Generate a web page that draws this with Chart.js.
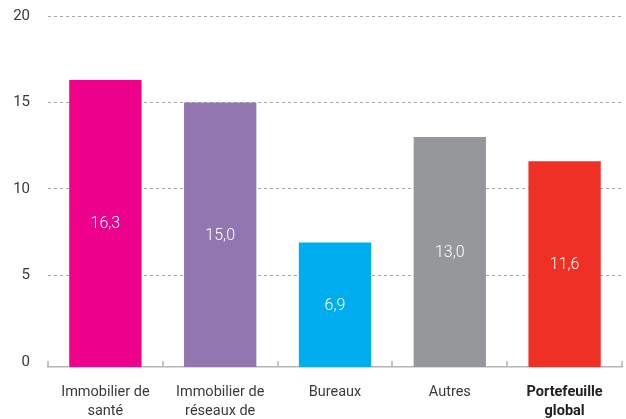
<!DOCTYPE html>
<html>
<head>
<meta charset="utf-8">
<script src="https://cdn.jsdelivr.net/npm/chart.js@4/dist/chart.umd.min.js"></script>
<style>
html,body{margin:0;padding:0;background:#fff;overflow:hidden;width:626px;height:419px;}
#wrap{width:626px;height:451px;position:absolute;left:0;top:-11px;}
</style>
</head>
<body>
<div id="wrap"><canvas id="c"></canvas></div>
<script>
const categories = [["Immobilier de","santé"],["Immobilier de","réseaux de","distribution"],"Bureaux","Autres",["Portefeuille","global"]];
const values = [16.3, 15.0, 6.9, 13.0, 11.6];
const colors = ["#EC008C","#9176B0","#00AEEF","#96979B","#EE3124"];
const yTicks = [0, 5, 10, 15, 20];

const valueLabels = {
  id: 'valueLabels',
  afterDatasetsDraw(chart) {
    const ctx = chart.ctx;
    const meta = chart.getDatasetMeta(0);
    ctx.save();
    ctx.fillStyle = '#ffffff';
    ctx.font = '300 16px Roboto';
    ctx.textAlign = 'center';
    ctx.textBaseline = 'middle';
    meta.data.forEach((bar, i) => {
      const p = bar.getProps(['x','y','base'], true);
      ctx.fillText(values[i].toFixed(1).replace('.', ','), p.x, (p.y + p.base) / 2 + 1);
    });
    ctx.restore();
  }
};

const xTickMarks = {
  id: 'xTickMarks',
  afterDraw(chart) {
    const xs = chart.scales.x;
    const ctx = chart.ctx;
    const y = chart.chartArea.bottom;
    ctx.save();
    ctx.strokeStyle = '#b5b5b5';
    ctx.lineWidth = 1.5;
    for (let i = 0; i <= categories.length; i++) {
      const x = Math.round(xs.getPixelForValue(i - 0.5));
      ctx.beginPath();
      ctx.moveTo(x, y);
      ctx.lineTo(x, y - 6);
      ctx.stroke();
    }
    ctx.restore();
  }
};

new Chart(document.getElementById('c'), {
  type: 'bar',
  data: {
    labels: categories,
    datasets: [{
      data: values,
      backgroundColor: colors,
      base: -0.3,
      categoryPercentage: 1,
      barPercentage: 0.63
    }]
  },
  options: {
    responsive: true,
    maintainAspectRatio: false,
    animation: false,
    layout: { padding: { top: 5, right: 4, left: 0, bottom: 0 } },
    plugins: { legend: { display: false }, tooltip: { enabled: false } },
    scales: {
      x: {
        offset: true,
        grid: { display: false, drawTicks: false },
        border: { display: true, color: '#b5b5b5', width: 1.5 },
        ticks: {
          padding: 16,
          color: ctx => ctx.index === 4 ? '#222' : '#3a3a3a',
          font: ctx => ctx.index === 4 ? { family: 'Roboto', size: 14.5, weight: 'bold', lineHeight: '19px' } : { family: 'Roboto', size: 14.5, lineHeight: '19px' },
          maxRotation: 0,
          autoSkip: false
        },
        afterFit(scale) { scale.height = 73; }
      },
      y: {
        min: -0.3,
        max: 20,
        afterBuildTicks(scale) { scale.ticks = yTicks.map(v => ({ value: v })); },
        grid: {
          color: ctx => (ctx.tick && ctx.tick.value === 0) ? 'rgba(0,0,0,0)' : '#a8a8a8',
          lineWidth: 1,
          drawTicks: false
        },
        border: { display: false, dash: [3, 3] },
        ticks: {
          padding: 18,
          color: '#3a3a3a',
          font: { family: 'Roboto', size: 15 }
        },
        afterFit(scale) { scale.width = 48; }
      }
    }
  },
  plugins: [valueLabels, xTickMarks]
});
</script>
</body>
</html>
